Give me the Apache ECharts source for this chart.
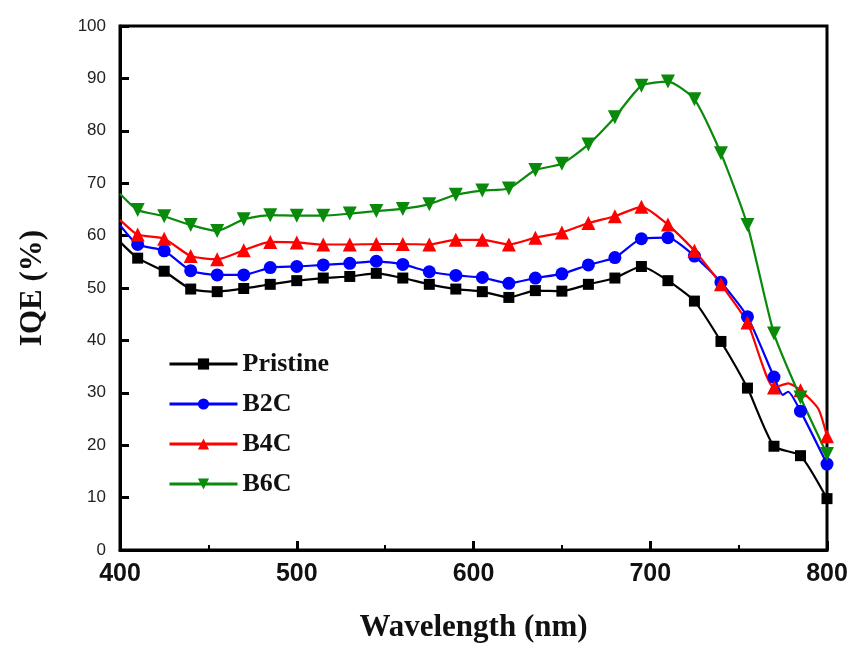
<!DOCTYPE html>
<html lang="en">
<head>
    <meta charset="UTF-8">
    <title>IQE</title>
    <script src="https://cdn.jsdelivr.net/npm/echarts@6/dist/echarts.min.js"></script>
    <style>
        html, body { margin: 0; padding: 0; background: #fff; }
        #chart { width: 856px; height: 648px; }
    </style>
</head>
<body>
<div id="chart"></div>
<script>
    // wavelength (nm), first point has no marker
    var wavelengths = [400, 410, 425, 440, 455, 470, 485, 500, 515, 530, 545, 560, 575, 590,
        605, 620, 635, 650, 665, 680, 695, 710, 725, 740, 755, 770, 785, 800];
    var pristine = [58.8, 55.7, 53.2, 49.8, 49.3, 49.9, 50.7, 51.4, 51.9, 52.2, 52.8, 51.9, 50.7, 49.8,
        49.3, 48.2, 49.5, 49.4, 50.7, 51.9, 54.1, 51.4, 47.5, 39.8, 30.9, 19.8, 18.0, 9.8];
    var b2c = [62.0, 58.3, 57.1, 53.3, 52.5, 52.5, 53.9, 54.1, 54.4, 54.7, 55.1, 54.5, 53.1, 52.4,
        52.0, 50.9, 51.9, 52.7, 54.4, 55.8, 59.4, 59.6, 56.1, 51.1, 44.5, 33.0, 26.5, 16.4];
    var b4c = [63.0, 60.2, 59.4, 56.1, 55.5, 57.2, 58.8, 58.7, 58.3, 58.3, 58.4, 58.4, 58.3, 59.2,
        59.2, 58.3, 59.6, 60.6, 62.4, 63.7, 65.5, 62.1, 57.1, 50.7, 43.4, 31.0, 30.5, 21.7];
    var b6c = [68.0, 64.9, 63.7, 62.0, 60.9, 63.1, 63.9, 63.8, 63.8, 64.2, 64.7, 65.1, 66.0, 67.8,
        68.6, 69.0, 72.5, 73.7, 77.4, 82.6, 88.6, 89.4, 86.0, 75.7, 62.0, 41.3, 29.1, 18.3];
    // unmarked points between markers
    var b2cExtra = [[775, 29.6], [778, 30.2]];
    var b4cExtra = [[778, 31.8], [795, 27.0]];

    var xTicks = [400, 500, 600, 700, 800];
    var names = ['Pristine', 'B2C', 'B4C', 'B6C'];

    function buildData(values, extra) {
        var pts = [];
        wavelengths.forEach(function (w, i) {
            var item = { value: [w, values[i]] };
            if (i == 0) item.symbol = 'none';
            pts.push(item);
        });
        (extra || []).forEach(function (p) {
            pts.push({ value: p, symbol: 'none' });
        });
        pts.sort(function (a, b) { return a.value[0] - b.value[0]; });
        return pts;
    }

    function makeSeries(name, values, extra, color, symbol, size, rotate) {
        return {
            name: name,
            type: 'line',
            data: buildData(values, extra),
            symbol: symbol,
            symbolSize: size,
            symbolRotate: rotate || 0,
            smooth: 0.2,
            lineStyle: { color: color, width: 2.2 },
            itemStyle: { color: color },
            clip: false,
            z: 3
        };
    }

    var option = {
        animation: false,
        grid: {
            left: 120, right: 29, top: 26, bottom: 98,
            show: true, borderColor: '#000', borderWidth: 3
        },
        legend: {
            orient: 'vertical',
            left: 163, top: 346,
            itemWidth: 68, itemHeight: 14,
            itemGap: 14,
            data: names,
            lineStyle: { width: 3 },
            textStyle: {
                fontFamily: 'Liberation Serif', fontWeight: 'bold',
                fontSize: 26, color: '#111', padding: [0, 0, 0, 0]
            }
        },
        xAxis: {
            type: 'value',
            min: 400, max: 800, interval: 100,
            name: 'Wavelength (nm)',
            nameLocation: 'middle',
            nameGap: 62,
            nameTextStyle: {
                fontFamily: 'Liberation Serif', fontWeight: 'bold',
                fontSize: 31, color: '#111'
            },
            axisLine: { lineStyle: { color: '#000', width: 3 } },
            axisTick: { inside: true, length: 9, lineStyle: { color: '#000', width: 3 } },
            minorTick: { show: true, splitNumber: 2, length: 5, lineStyle: { color: '#000', width: 2 } },
            axisLabel: {
                margin: 12,
                fontFamily: 'Liberation Sans', fontWeight: 'bold',
                fontSize: 25, color: '#111',
                formatter: function (v) { return xTicks.indexOf(v) >= 0 ? v : ''; }
            },
            splitLine: { show: false }
        },
        yAxis: {
            type: 'value',
            min: 0, max: 100, interval: 10,
            name: 'IQE (%)',
            nameLocation: 'middle',
            nameGap: 72,
            nameTextStyle: {
                fontFamily: 'Liberation Serif', fontWeight: 'bold',
                fontSize: 31, color: '#111'
            },
            axisLine: { show: true, lineStyle: { color: '#000', width: 3 } },
            axisTick: { show: true, inside: true, length: 9, lineStyle: { color: '#000', width: 3 } },
            axisLabel: {
                margin: 14,
                fontFamily: 'Liberation Sans Narrow, Liberation Sans',
                fontSize: 17, color: '#222'
            },
            splitLine: { show: false }
        },
        series: [
            makeSeries('Pristine', pristine, null, '#000000', 'rect', 11),
            makeSeries('B2C', b2c, b2cExtra, '#0000ff', 'circle', 13),
            makeSeries('B4C', b4c, b4cExtra, '#ff0000', 'triangle', 14),
            makeSeries('B6C', b6c, null, '#0a8a0a', 'triangle', 14, 180)
        ]
    };

    var myChart = echarts.init(document.getElementById('chart'));
    myChart.setOption(option);
</script>
</body>
</html>
